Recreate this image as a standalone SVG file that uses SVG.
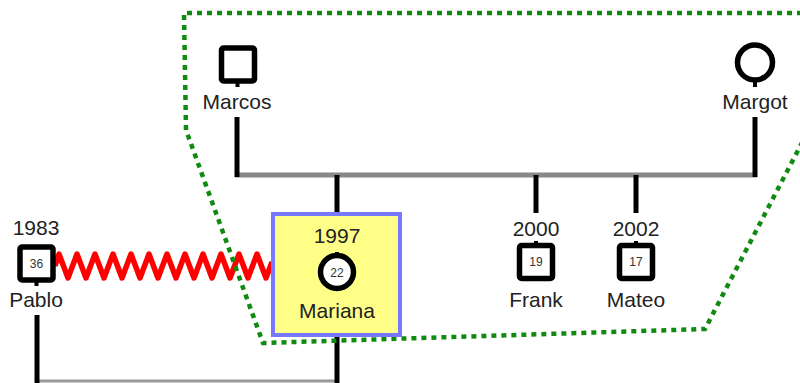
<svg xmlns="http://www.w3.org/2000/svg" width="800" height="383" viewBox="0 0 800 383">
<style>
.lbl{font-family:"Liberation Sans",Arial,sans-serif;font-size:21px;fill:#222;text-anchor:middle}
.age{font-family:"Liberation Sans",Arial,sans-serif;font-size:12px;fill:#333;text-anchor:middle}
.shape{fill:#fff;stroke:#000;stroke-width:5.5}
.drop{stroke:#000;stroke-width:5;fill:none}
.sib{stroke:#888;stroke-width:5;fill:none}
</style>
<rect width="800" height="383" fill="#fff"/>
<g id="connectors">
  <line class="sib" x1="235" y1="175" x2="757" y2="175"/>
  <line class="drop" x1="237" y1="117" x2="237" y2="177"/>
  <line class="drop" x1="755" y1="117" x2="755" y2="177"/>
  <line class="drop" x1="337" y1="175" x2="337" y2="212"/>
  <line class="drop" x1="536" y1="175" x2="536" y2="213"/>
  <line class="drop" x1="636" y1="175" x2="636" y2="213"/>
  <line stroke="#999" stroke-width="3" x1="37" y1="381" x2="337" y2="381"/>
  <line class="drop" x1="37" y1="315" x2="37" y2="383"/>
  <line class="drop" x1="337" y1="337" x2="337" y2="383"/>
  <polyline fill="none" stroke="#f00" stroke-width="5.5" stroke-linejoin="round" points="55,266 59,254 68,278 77,254 86,278 95,254 104,278 113,254 122,278 131,254 140,278 149,254 158,278 167,254 176,278 185,254 194,278 203,254 212,278 221,254 230,278 239,254 248,278 257,254 266,278 272,262"/>
</g>
<g id="group-outline">
  <polyline fill="none" stroke="#108a10" stroke-width="4.5" stroke-dasharray="5 5" points="812,13 184,13 186,130 263,343 705,329 806,135"/>
</g>
<g id="marcos">
  <rect class="shape" x="221.5" y="48" width="33" height="33" rx="2"/>
  <rect x="235.5" y="81" width="4" height="6" fill="#000"/>
  <text class="lbl" x="237" y="109">Marcos</text>
</g>
<g id="margot">
  <circle class="shape" cx="755" cy="62.5" r="17.5"/>
  <rect x="753" y="80" width="4" height="7" fill="#000"/>
  <text class="lbl" x="755" y="109">Margot</text>
</g>
<g id="pablo">
  <text class="lbl" x="36" y="235">1983</text>
  <rect class="shape" x="20" y="247" width="33" height="33" rx="2"/>
  <rect x="34.5" y="280" width="4" height="6" fill="#000"/>
  <text class="age" x="36.5" y="268">36</text>
  <text class="lbl" x="36" y="307">Pablo</text>
</g>
<g id="mariana">
  <rect x="273" y="214" width="127" height="121" fill="#ffff88" stroke="#7777ff" stroke-width="4"/>
  <text class="lbl" x="337" y="243">1997</text>
  <circle class="shape" cx="337" cy="272" r="16.5"/>
  <rect x="335" y="252" width="4" height="4" fill="#000"/>
  <text class="age" x="337" y="276.5">22</text>
  <text class="lbl" x="337" y="318">Mariana</text>
</g>
<g id="frank">
  <text class="lbl" x="536" y="236">2000</text>
  <rect class="shape" x="519.5" y="245.5" width="33" height="33" rx="2"/>
  <rect x="534" y="241" width="4" height="5" fill="#000"/>
  <text class="age" x="536" y="266">19</text>
  <text class="lbl" x="536" y="307">Frank</text>
</g>
<g id="mateo">
  <text class="lbl" x="636" y="236">2002</text>
  <rect class="shape" x="619.5" y="245.5" width="33" height="33" rx="2"/>
  <rect x="634" y="241" width="4" height="5" fill="#000"/>
  <text class="age" x="636" y="266">17</text>
  <text class="lbl" x="636" y="307">Mateo</text>
</g>
</svg>
